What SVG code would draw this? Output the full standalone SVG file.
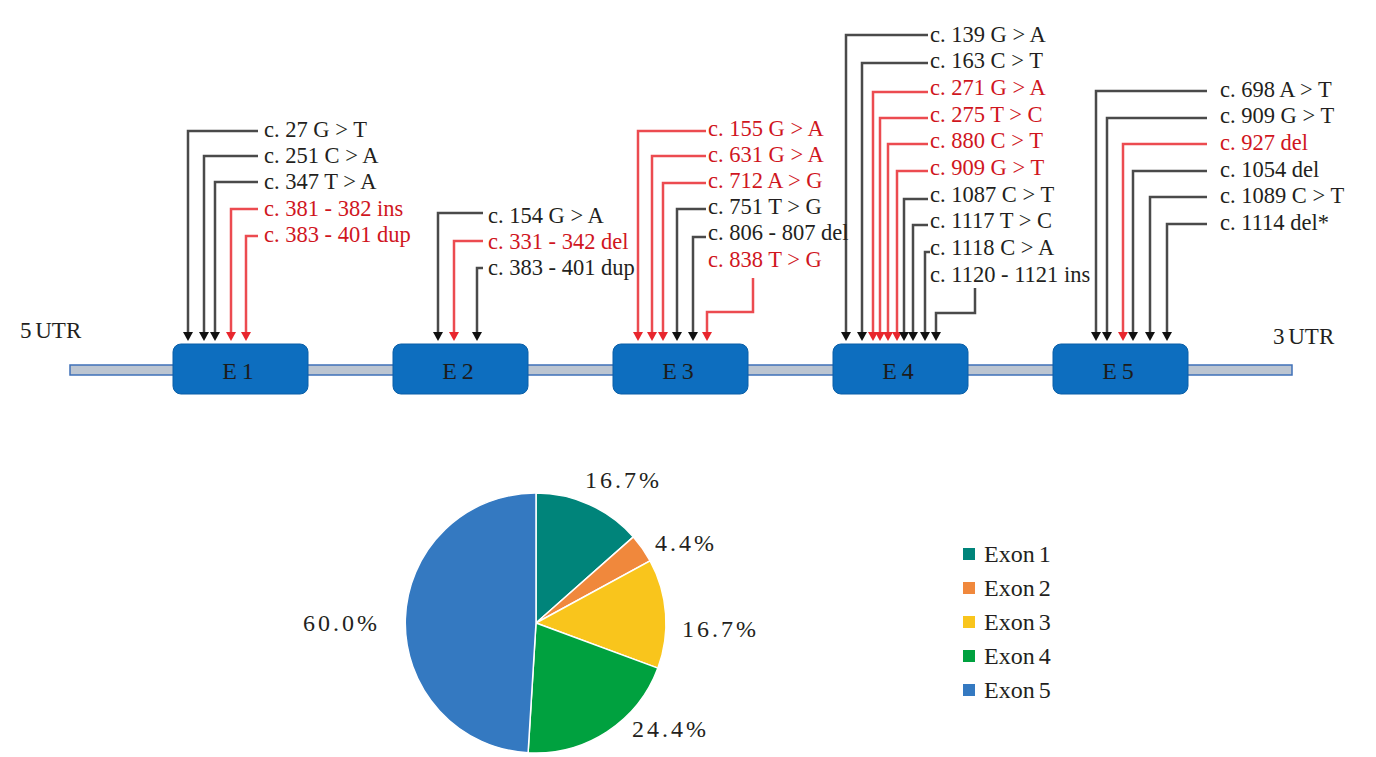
<svg xmlns="http://www.w3.org/2000/svg" width="1376" height="757" viewBox="0 0 1376 757">
<style>
text{font-family:"Liberation Serif","Times New Roman",serif}
.lb{font-size:22.5px;fill:#231f20;word-spacing:0px}
.lr{font-size:22.5px;fill:#d0161e;word-spacing:0px}
.ex{font-size:24px;fill:#1c1c1c;text-anchor:middle;word-spacing:-1px}
.utr{font-size:23px;fill:#231f20;word-spacing:-2px}
.pct{font-size:24px;fill:#231f20;letter-spacing:3px}
.lg{font-size:24px;fill:#231f20;word-spacing:-2px}
.cb{fill:none;stroke:#4a4a4a;stroke-width:2.5;marker-end:url(#ab)}
.cr{fill:none;stroke:#ec4b50;stroke-width:2.5;marker-end:url(#ar)}
.box{fill:#0d6ebf;stroke:#0a5fa8;stroke-width:1}
</style>
<defs>
<marker id="ab" markerUnits="userSpaceOnUse" markerWidth="10" markerHeight="10" refX="0" refY="5" orient="auto" overflow="visible">
<path d="M0,0 L9,5 L0,10 Z" fill="#111"/>
</marker>
<marker id="ar" markerUnits="userSpaceOnUse" markerWidth="10" markerHeight="10" refX="0" refY="5" orient="auto" overflow="visible">
<path d="M0,0 L9,5 L0,10 Z" fill="#e8262d"/>
</marker>
</defs>

<g id="backbone">
<rect x="70" y="365" width="1222" height="10" fill="#bcc5d1" stroke="#3f70b8" stroke-width="1.5"/>
<text class="utr" x="20" y="338">5 UTR</text>
<text class="utr" x="1273" y="344">3 UTR</text>
</g>

<g id="exon1"><rect class="box" x="173" y="344" width="135" height="50" rx="8"/><text class="ex" x="238" y="379">E 1</text></g>
<g id="exon2"><rect class="box" x="393" y="344" width="135" height="50" rx="8"/><text class="ex" x="458" y="379">E 2</text></g>
<g id="exon3"><rect class="box" x="613" y="344" width="135" height="50" rx="8"/><text class="ex" x="678" y="379">E 3</text></g>
<g id="exon4"><rect class="box" x="833" y="344" width="135" height="50" rx="8"/><text class="ex" x="898" y="379">E 4</text></g>
<g id="exon5"><rect class="box" x="1053" y="344" width="135" height="50" rx="8"/><text class="ex" x="1118" y="379">E 5</text></g>

<g id="connectors">
<!-- E1 -->
<polyline class="cb" points="258,131 188,131 188,332"/>
<polyline class="cb" points="258,156 204,156 204,332"/>
<polyline class="cb" points="258,182 215,182 215,332"/>
<polyline class="cr" points="258,209 231,209 231,332"/>
<polyline class="cr" points="258,236 246,236 246,332"/>
<!-- E2 -->
<polyline class="cb" points="483,213 438,213 438,332"/>
<polyline class="cr" points="483,241 454,241 454,332"/>
<polyline class="cb" points="483,268 477,268 477,332"/>
<!-- E3 -->
<polyline class="cr" points="706,131 638,131 638,332"/>
<polyline class="cr" points="706,156 652,156 652,332"/>
<polyline class="cr" points="706,183 663,183 663,332"/>
<polyline class="cb" points="706,209 677,209 677,332"/>
<polyline class="cb" points="706,237 693,237 693,332"/>
<polyline class="cr" points="753,278 753,312 707,312 707,332"/>
<!-- E4 -->
<polyline class="cb" points="928,35 846,35 846,332"/>
<polyline class="cb" points="928,63 862,63 862,332"/>
<polyline class="cr" points="928,92 873,92 873,332"/>
<polyline class="cr" points="928,118 880,118 880,332"/>
<polyline class="cr" points="928,144 888,144 888,332"/>
<polyline class="cr" points="928,171 897,171 897,332"/>
<polyline class="cb" points="928,199 904,199 904,332"/>
<polyline class="cb" points="928,225 913,225 913,332"/>
<polyline class="cb" points="930,252 925,252 925,332"/>
<polyline class="cb" points="975,288 975,313 936,313 936,332"/>
<!-- E5 -->
<polyline class="cb" points="1207,91 1096,91 1096,332"/>
<polyline class="cb" points="1207,118 1107,118 1107,332"/>
<polyline class="cr" points="1207,144 1123,144 1123,332"/>
<polyline class="cb" points="1207,171 1133,171 1133,332"/>
<polyline class="cb" points="1207,197 1150,197 1150,332"/>
<polyline class="cb" points="1207,224 1167,224 1167,332"/>
</g>

<g id="labels-e1">
<text class="lb" x="264" y="137">c. 27 G &gt; T</text>
<text class="lb" x="264" y="163">c. 251 C &gt; A</text>
<text class="lb" x="264" y="189">c. 347 T &gt; A</text>
<text class="lr" x="264" y="216">c. 381 - 382 ins</text>
<text class="lr" x="264" y="242">c. 383 - 401 dup</text>
</g>
<g id="labels-e2">
<text class="lb" x="488" y="223">c. 154 G &gt; A</text>
<text class="lr" x="488" y="249">c. 331 - 342 del</text>
<text class="lb" x="488" y="275">c. 383 - 401 dup</text>
</g>
<g id="labels-e3">
<text class="lr" x="708" y="136">c. 155 G &gt; A</text>
<text class="lr" x="708" y="162">c. 631 G &gt; A</text>
<text class="lr" x="708" y="188">c. 712 A &gt; G</text>
<text class="lb" x="708" y="214">c. 751 T &gt; G</text>
<text class="lb" x="708" y="240">c. 806 - 807 del</text>
<text class="lr" x="708" y="267">c. 838 T &gt; G</text>
</g>
<g id="labels-e4">
<text class="lb" x="930" y="42">c. 139 G &gt; A</text>
<text class="lb" x="930" y="68">c. 163 C &gt; T</text>
<text class="lr" x="930" y="95">c. 271 G &gt; A</text>
<text class="lr" x="930" y="122">c. 275 T &gt; C</text>
<text class="lr" x="930" y="148">c. 880 C &gt; T</text>
<text class="lr" x="930" y="175">c. 909 G &gt; T</text>
<text class="lb" x="930" y="202">c. 1087 C &gt; T</text>
<text class="lb" x="930" y="228">c. 1117 T &gt; C</text>
<text class="lb" x="930" y="255">c. 1118 C &gt; A</text>
<text class="lb" x="930" y="282">c. 1120 - 1121 ins</text>
</g>
<g id="labels-e5">
<text class="lb" x="1220" y="97">c. 698 A &gt; T</text>
<text class="lb" x="1220" y="123">c. 909 G &gt; T</text>
<text class="lr" x="1220" y="150">c. 927 del</text>
<text class="lb" x="1220" y="177">c. 1054 del</text>
<text class="lb" x="1220" y="203">c. 1089 C &gt; T</text>
<text class="lb" x="1220" y="230">c. 1114 del*</text>
</g>

<g id="pie" stroke="#ffffff" stroke-width="1.5">
<path d="M536,623 L536,493 A130,130 0 0 1 633.4,536.9 Z" fill="#00847a"/>
<path d="M536,623 L633.4,536.9 A130,130 0 0 1 650.1,560.8 Z" fill="#f0883c"/>
<path d="M536,623 L650.1,560.8 A130,130 0 0 1 657.9,668.1 Z" fill="#f9c51c"/>
<path d="M536,623 L657.9,668.1 A130,130 0 0 1 528.1,752.8 Z" fill="#00a13f"/>
<path d="M536,623 L528.1,752.8 A130,130 0 0 1 536,493 Z" fill="#3479c1"/>
</g>
<g id="pie-labels">
<text class="pct" x="585" y="488">16.7%</text>
<text class="pct" x="655" y="551">4.4%</text>
<text class="pct" x="682" y="637">16.7%</text>
<text class="pct" x="632" y="737">24.4%</text>
<text class="pct" x="303" y="631">60.0%</text>
</g>

<g id="legend">
<rect x="963" y="548" width="12" height="12" fill="#00847a"/>
<rect x="963" y="582" width="12" height="12" fill="#f0883c"/>
<rect x="963" y="616" width="12" height="12" fill="#f9c51c"/>
<rect x="963" y="650" width="12" height="12" fill="#00a13f"/>
<rect x="963" y="684" width="12" height="12" fill="#3479c1"/>
<text class="lg" x="984" y="562">Exon 1</text>
<text class="lg" x="984" y="596">Exon 2</text>
<text class="lg" x="984" y="630">Exon 3</text>
<text class="lg" x="984" y="664">Exon 4</text>
<text class="lg" x="984" y="698">Exon 5</text>
</g>
</svg>
